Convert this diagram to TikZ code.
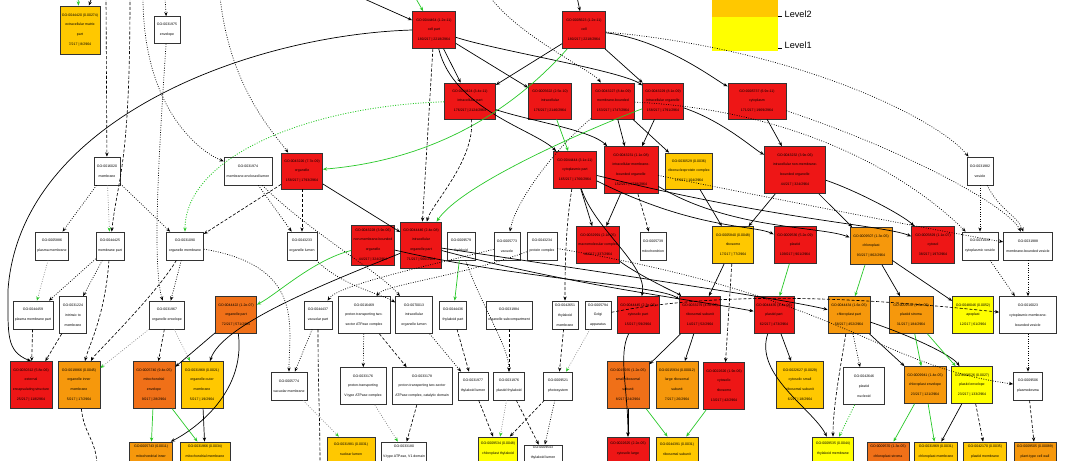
\documentclass[tikz,border=0pt]{standalone}
\usepackage{fontspec}
\setmainfont{Liberation Sans}
\usetikzlibrary{arrows.meta}

\definecolor{goRed}{RGB}{238,22,22}
\definecolor{goDeep}{RGB}{240,112,24}
\definecolor{goOrange}{RGB}{246,152,12}
\definecolor{goAmber}{RGB}{255,200,0}
\definecolor{goYellow}{RGB}{255,255,0}
\definecolor{goGreen}{RGB}{40,200,40}
\newcommand{\gofont}{\fontsize{2.5pt}{7pt}\selectfont}
\newcommand{\legfont}{\fontsize{6.5pt}{7pt}\selectfont}

\tikzset{
  goterm/.style={draw=black!80, line width=0.5pt, rectangle, inner sep=0.5pt, align=center, font=\gofont},
  wh/.style 2 args={minimum width=#1*0.25mm, minimum height=#2*0.25mm},
  lvred/.style={goterm, fill=goRed},
  lvdeep/.style={goterm, fill=goDeep},
  lvorange/.style={goterm, fill=goOrange},
  lvamber/.style={goterm, fill=goAmber},
  lvyellow/.style={goterm, fill=goYellow},
  lvwhite/.style={goterm, fill=white},
  isa/.style={->, line width=0.5pt},
  partof/.style={->, line width=0.45pt, dash pattern=on 2.2pt off 1.3pt},
  regl/.style={->, line width=0.5pt, dash pattern=on 0.6pt off 1.1pt},
  grn/.style={->, goGreen, line width=0.5pt},
  grndot/.style={->, goGreen, line width=0.6pt, dash pattern=on 0.7pt off 1.1pt},
  gtip/.style={-{Stealth[length=3pt,width=2.4pt,color=goGreen]}, gray, line width=0.45pt, dash pattern=on 0.6pt off 1.1pt}
}

\begin{document}
\begin{tikzpicture}[x=0.25mm, y=-0.25mm, >={Stealth[length=3pt,width=2.4pt]}]
  \useasboundingbox (0,0) rectangle (1080,460);
  \clip (0,0) rectangle (1080,460);

  % Legend
  \node[fill=goAmber, wh={66}{34}, inner sep=0] (lvtwo) at (745,0) {};
  \node[fill=goYellow, wh={66}{34}, inner sep=0] (lvone) at (745,34) {};
  \node[anchor=west, font=\legfont, inner sep=1pt] (lvtwotxt) at (783,14) {Level2};
  \node[anchor=west, font=\legfont, inner sep=1pt] (lvonetxt) at (783,45) {Level1};
  \draw[line width=0.7pt] (778,16) -- (782,16);
  \draw[line width=0.7pt] (778,48) -- (782,48);

  % Top row
  \node[lvamber, wh={40}{48}] (ecm) at (80,30) {GO:0044420 (0.00274)\\extracellular matrix\\part\\7/217 | 8/2964};
  \node[lvwhite, wh={26}{27}] (env) at (167,30) {GO:0031975\\envelope};
  \node[lvred, wh={43}{37}] (cellpart) at (434,30) {GO:0044464 (1.2e-11)\\cell part\\180/217 | 2218/2964};
  \node[lvred, wh={43}{37}] (cell) at (584,30) {GO:0005623 (1.2e-11)\\cell\\180/217 | 2218/2964};

  % Second row
  \node[lvred, wh={51}{36}] (intrapart) at (470,101) {GO:0044424 (3.4e-11)\\intracellular part\\176/217 | 2124/2964};
  \node[lvred, wh={43}{36}] (intra) at (550,101) {GO:0005622 (2.5e-10)\\intracellular\\176/217 | 2146/2964};
  \node[lvred, wh={43}{36}] (mborg) at (613,101) {GO:0043227 (8.4e-09)\\membrane-bounded\\153/217 | 1747/2964};
  \node[lvred, wh={41}{36}] (icorg) at (663,101) {GO:0043229 (8.1e-09)\\intracellular organelle\\158/217 | 1791/2964};
  \node[lvred, wh={58}{36}] (cytoplasm) at (757,101) {GO:0005737 (6.9e-11)\\cytoplasm\\171/217 | 1969/2964};

  % Third row
  \node[lvwhite, wh={26}{28}] (membrane) at (107,171) {GO:0016020\\membrane};
  \node[lvwhite, wh={48}{28}] (memlumen) at (248,171) {GO:0031974\\membrane-enclosed lumen};
  \node[lvred, wh={41}{36}] (organelle) at (302,171) {GO:0043226 (7.7e-09)\\organelle\\158/217 | 1793/2964};
  \node[lvred, wh={43}{37}] (cytopart) at (575,170) {GO:0044444 (3.1e-11)\\cytoplasmic part\\165/217 | 1766/2964};
  \node[lvred, wh={54}{47}] (icmbo) at (631,170) {GO:0043231 (1.1e-08)\\intracellular membrane-\\bounded organelle\\152/217 | 1738/2964};
  \node[lvamber, wh={47}{36}] (rnp) at (689,171) {GO:0030529 (0.0036)\\ribonucleoprotein complex\\17/217 | 104/2964};
  \node[lvred, wh={61}{47}] (icnmbo) at (795,170) {GO:0043232 (3.9e-06)\\intracellular non-membrane-\\bounded organelle\\44/217 | 324/2964};
  \node[lvwhite, wh={26}{28}] (vesicle) at (980,171) {GO:0031982\\vesicle};

  % Fourth row
  \node[lvwhite, wh={33}{28}] (plasmamem) at (52,246) {GO:0005886\\plasma membrane};
  \node[lvwhite, wh={28}{28}] (mempart) at (110,246) {GO:0044425\\membrane part};
  \node[lvwhite, wh={37}{28}] (orgmem) at (185,246) {GO:0031090\\organelle membrane};
  \node[lvwhite, wh={30}{28}] (orglumen) at (302,246) {GO:0043233\\organelle lumen};
  \node[lvred, wh={43}{40}] (nmbo) at (373,245) {GO:0043228 (3.9e-06)\\non-membrane-bounded\\organelle\\44/217 | 324/2964};
  \node[lvred, wh={41}{46}] (icorgpart) at (421,245) {GO:0044446 (2.4e-08)\\intracellular\\organelle part\\71/217 | 566/2964};
  \node[lvwhite, wh={28}{28}] (thylakoid) at (461,246) {GO:0009579\\thylakoid};
  \node[lvwhite, wh={26}{28}] (vacuole) at (507,246) {GO:0005773\\vacuole};
  \node[lvwhite, wh={30}{28}] (protcx) at (542,246) {GO:0043234\\protein complex};
  \node[lvred, wh={43}{37}] (macrocx) at (598,245) {GO:0032991 (2.1e-05)\\macromolecular complex\\46/217 | 337/2964};
  \node[lvwhite, wh={26}{28}] (mito) at (653,246) {GO:0005739\\mitochondrion};
  \node[lvamber, wh={41}{37}] (ribosome) at (733,245) {GO:0005840 (0.0048)\\ribosome\\17/217 | 77/2964};
  \node[lvred, wh={42}{37}] (plastid) at (795,245) {GO:0009536 (5.2e-09)\\plastid\\109/217 | 901/2964};
  \node[lvorange, wh={42}{37}] (chlorO) at (871,246) {GO:0009507 (1.3e-05)\\chloroplast\\93/217 | 862/2964};
  \node[lvred, wh={43}{37}] (cytosol) at (933,245) {GO:0005829 (1.1e-07)\\cytosol\\38/217 | 197/2964};
  \node[lvwhite, wh={36}{28}] (cytoves) at (980,246) {GO:0031410\\cytoplasmic vesicle};
  \node[lvwhite, wh={49}{28}] (mbves) at (1028,246) {GO:0031988\\membrane-bounded vesicle};

  % Fifth row
  \node[lvwhite, wh={40}{28}] (pmpart) at (33,315) {GO:0044459\\plasma membrane part};
  \node[lvwhite, wh={27}{37}] (intrinsic) at (73,315) {GO:0031224\\intrinsic to\\membrane};
  \node[lvwhite, wh={35}{28}] (orgenv) at (167,315) {GO:0031967\\organelle envelope};
  \node[lvdeep, wh={41}{37}] (orgpart) at (236,315) {GO:0044422 (1.2e-07)\\organelle part\\72/217 | 571/2964};
  \node[lvwhite, wh={28}{28}] (vacpart) at (318,315) {GO:0044437\\vacuolar part};
  \node[lvwhite, wh={52}{37}] (ptatp) at (364,315) {GO:0016469\\proton-transporting two-\\sector ATPase complex};
  \node[lvwhite, wh={37}{37}] (iclumen) at (414,315) {GO:0070013\\intracellular\\organelle lumen};
  \node[lvwhite, wh={27}{28}] (thylpart) at (453,315) {GO:0044436\\thylakoid part};
  \node[lvwhite, wh={46}{28}] (orgsub) at (509,315) {GO:0031984\\organelle subcompartment};
  \node[lvwhite, wh={26}{28}] (thylmem) at (565,315) {GO:0042651\\thylakoid\\membrane};
  \node[lvwhite, wh={26}{28}] (golgi) at (598,315) {GO:0005794\\Golgi\\apparatus};
  \node[lvred, wh={42}{37}] (cytosolpart) at (638,315) {GO:0044445 (2.3e-06)\\cytosolic part\\15/217 | 59/2964};
  \node[lvred, wh={41}{37}] (ribsub) at (700,315) {GO:0033279 (4.8e-06)\\ribosomal subunit\\14/217 | 52/2964};
  \node[lvred, wh={40}{37}] (plpart) at (774,315) {GO:0044435 (4.4e-06)\\plastid part\\62/217 | 473/2964};
  \node[lvorange, wh={42}{37}] (chlpart) at (849,315) {GO:0044434 (1.6e-05)\\chloroplast part\\58/217 | 452/2964};
  \node[lvorange, wh={44}{37}] (stroma) at (911,315) {GO:0009532 (1.8e-05)\\plastid stroma\\31/217 | 184/2964};
  \node[lvyellow, wh={41}{37}] (apoplast) at (973,315) {GO:0048046 (0.0052)\\apoplast\\12/217 | 61/2964};
  \node[lvwhite, wh={57}{37}] (cmbv) at (1028,315) {GO:0016023\\cytoplasmic membrane-\\bounded vesicle};

  % Sixth row
  \node[lvred, wh={42}{47}] (extenc) at (31,385) {GO:0030312 (5.8e-06)\\external\\encapsulating structure\\25/217 | 118/2964};
  \node[lvorange, wh={42}{47}] (inmem) at (79,385) {GO:0019866 (0.0045)\\organelle inner\\membrane\\5/217 | 17/2964};
  \node[lvdeep, wh={42}{47}] (mitenv) at (154,385) {GO:0005740 (9.4e-05)\\mitochondrial\\envelope\\9/217 | 28/2964};
  \node[lvamber, wh={42}{47}] (outmem) at (202,385) {GO:0031968 (0.0021)\\organelle outer\\membrane\\5/217 | 19/2964};
  \node[lvwhite, wh={36}{28}] (vacmem) at (289,386) {GO:0005774\\vacuolar membrane};
  \node[lvwhite, wh={46}{37}] (vatp) at (363,386) {GO:0033176\\proton-transporting\\V-type ATPase complex};
  \node[lvwhite, wh={60}{37}] (ptdom) at (422,386) {GO:0033178\\proton-transporting two-sector\\ATPase complex, catalytic domain};
  \node[lvwhite, wh={30}{28}] (thyllumen) at (473,386) {GO:0031977\\thylakoid lumen};
  \node[lvwhite, wh={31}{28}] (plthyl) at (509,386) {GO:0031976\\plastid thylakoid};
  \node[lvwhite, wh={29}{28}] (psys) at (558,386) {GO:0009521\\photosystem};
  \node[lvdeep, wh={42}{47}] (ssu) at (628,385) {GO:0015935 (1.2e-05)\\small ribosomal\\subunit\\8/217 | 24/2964};
  \node[lvorange, wh={42}{47}] (lsu) at (677,385) {GO:0015934 (0.00012)\\large ribosomal\\subunit\\7/217 | 26/2964};
  \node[lvred, wh={41}{47}] (cytrib) at (724,386) {GO:0022626 (1.9e-06)\\cytosolic\\ribosome\\13/217 | 42/2964};
  \node[lvamber, wh={47}{47}] (cytssu) at (800,385) {GO:0022627 (0.0029)\\cytosolic small\\ribosomal subunit\\6/217 | 18/2964};
  \node[lvwhite, wh={41}{37}] (nucleoid) at (864,386) {GO:0042646\\plastid\\nucleoid};
  \node[lvorange, wh={42}{37}] (chlenv) at (925,385) {GO:0009941 (1.4e-05)\\chloroplast envelope\\23/217 | 121/2964};
  \node[lvyellow, wh={41}{37}] (plenv) at (972,385) {GO:0009526 (0.0027)\\plastid envelope\\23/217 | 133/2964};
  \node[lvwhite, wh={29}{28}] (plasmod) at (1028,386) {GO:0009506\\plasmodesma};

  % Bottom row, its lower border on the edge
  \node[lvorange, wh={43}{19}] (mitim) at (151,451.5) {GO:0005743 (0.0011)\\mitochondrial inner};
  \node[lvamber, wh={50}{19}] (mitmem) at (205,451.5) {GO:0031966 (0.0034)\\mitochondrial membrane};
  \node[lvamber, wh={48}{24}] (nuclum) at (351,449) {GO:0031981 (0.0031)\\nuclear lumen};
  \node[lvwhite, wh={45}{19}] (vdom) at (404,451.5) {GO:0033180\\V-type ATPase, V1 domain};
  \node[lvyellow, wh={39}{24}] (chlthyl) at (498,449) {GO:0009534 (0.0048)\\chloroplast thylakoid};
  \node[lvwhite, wh={38}{16}] (chlthyllum) at (543,453) {GO:0009543\\thylakoid lumen};
  \node[lvred, wh={42}{24}] (cytlsu) at (628,449) {GO:0022625 (2.2e-05)\\cytosolic large};
  \node[lvamber, wh={42}{24}] (lsupart) at (677,449) {GO:0044391 (0.0031)\\ribosomal subunit};
  \node[lvyellow, wh={41}{24}] (chlthylmem) at (833,449) {GO:0009535 (0.0044)\\thylakoid membrane};
  \node[lvdeep, wh={42}{19}] (chlstroma) at (888,451.5) {GO:0009570 (1.3e-05)\\chloroplast stroma};
  \node[lvamber, wh={43}{19}] (chlmem) at (936,451.5) {GO:0031969 (0.0031)\\chloroplast membrane};
  \node[lvamber, wh={43}{19}] (plmem) at (985,451.5) {GO:0042170 (0.0035)\\plastid membrane};
  \node[lvorange, wh={42}{19}] (ptcw) at (1035,451.5) {GO:0009505 (0.00089)\\plant-type cell wall};

  % Free ends above and below the picture
  \coordinate (inA) at (78,-3);
  \coordinate (inB) at (92,-3);
  \coordinate (inC) at (106,-3);
  \coordinate (inD) at (130,-3);
  \coordinate (inE) at (143,-3);
  \coordinate (inF) at (165,-3);
  \coordinate (inG) at (220,-3);
  \coordinate (inH) at (360,-3);
  \coordinate (inI) at (415,-3);
  \coordinate (inJ) at (577,-3);
  \coordinate (inK) at (490,-3);
  \coordinate (outA) at (97,470);
  \coordinate (outB) at (320,470);
  \coordinate (arcbend) at (8,290);

  % Edges entering from above
  \draw[grn] (inA) -- (ecm);
  \draw[isa] (inB) -- (ecm);
  \draw[partof] (inC) -- (membrane);
  \draw[partof] (inD) .. controls +(0,170) and +(8,-70) .. (mempart);
  \draw[regl] (inE) .. controls +(0,110) and +(-50,-20) .. (memlumen);
  \draw[regl] (inF) -- (env);
  \draw[regl] (inG) .. controls +(10,90) and +(-30,-40) .. (organelle);
  \draw[isa] (inH) -- (cellpart);
  \draw[grn] (inI) -- (cellpart);
  \draw[isa] (inJ) -- (cell);
  \draw[regl] (inK) .. controls +(30,40) and +(-20,-30) .. (mborg);

  % Cell part and cell
  \draw[isa] (cellpart) -- (intrapart);
  \draw[isa] (cellpart) -- (intra);
  \draw[isa] (cellpart) .. controls +(60,20) and +(-40,-30) .. (icorg);
  \draw[isa] (cellpart) .. controls +(20,80) and +(-40,-40) .. (cytopart);
  \draw[partof] (cellpart) -- (icorgpart);
  \draw[isa] (cellpart.west) .. controls +(-163,5) and +(12,-170) .. (arcbend) .. controls +(0,45) and +(-25,-10) .. (extenc.north);
  \draw[isa] (cell) -- (intrapart);
  \draw[isa] (cell) -- (icorg);
  \draw[isa] (cell) .. controls +(80,10) and +(-40,-20) .. (cytoplasm);
  \draw[grn] (cell) .. controls +(-80,90) and +(120,-10) .. (organelle);
  \draw[regl] (cell) .. controls +(220,20) and +(-40,-50) .. (vesicle);

  % Second row out
  \draw[isa] (intrapart) .. controls +(60,20) and +(-40,-40) .. (icmbo);
  \draw[grndot] (intrapart) .. controls +(-160,5) and +(0,-90) .. (orgmem);
  \draw[partof] (intrapart) .. controls +(5,60) and +(10,-40) .. (icorgpart);
  \draw[grn] (intra) -- (cytopart);
  \draw[isa] (mborg) -- (icmbo);
  \draw[isa] (mborg) -- (rnp);
  \draw[regl] (mborg) .. controls +(-50,40) and +(10,-50) .. (vacuole);
  \draw[regl] (mborg) .. controls +(200,10) and +(-60,-60) .. (cytoves);
  \draw[isa] (icorg) -- (icmbo);
  \draw[isa] (icorg) .. controls +(60,20) and +(-40,-20) .. (icnmbo);
  \draw[grn] (icorg) .. controls +(-80,30) and +(40,-60) .. (icorgpart);
  \draw[isa] (cytoplasm) -- (icnmbo);
  \draw[regl] (cytoplasm) .. controls +(150,50) and +(-20,-40) .. (mbves);

  % Third row out
  \draw[regl] (env) .. controls +(-8,120) and +(-15,-50) .. (orgenv);
  \draw[regl] (membrane) -- (plasmamem);
  \draw[gtip] (membrane) -- (mempart);
  \draw[regl] (membrane) -- (orgmem);
  \draw[regl] (memlumen) -- (orglumen);
  \draw[regl] (memlumen) .. controls +(60,60) and +(-30,-40) .. (iclumen);
  \draw[partof] (organelle) -- (orglumen);
  \draw[partof] (organelle) -- (orgmem);
  \draw[isa] (organelle) -- (icorgpart);
  \draw[isa] (cytopart) -- (macrocx);
  \draw[isa] (cytopart) .. controls +(120,60) and +(-40,-20) .. (plastid);
  \draw[isa] (cytopart) .. controls +(200,50) and +(-50,-20) .. (cytosol);
  \draw[isa] (cytopart) .. controls +(20,60) and +(10,-50) .. (cytosolpart);
  \draw[partof] (cytopart) .. controls +(-10,60) and +(0,-40) .. (thylmem);
  \draw[isa] (icmbo) -- (macrocx);
  \draw[partof] (icmbo) -- (mito);
  \draw[isa] (icmbo) .. controls +(100,60) and +(-50,-20) .. (chlorO);
  \draw[regl] (icmbo) .. controls +(250,50) and +(-60,-10) .. (mbves);
  \draw[isa] (rnp) -- (ribosome);
  \draw[isa] (icnmbo) -- (ribosome);
  \draw[isa] (icnmbo) -- (chlorO);
  \draw[isa] (icnmbo) .. controls +(60,20) and +(-30,-30) .. (cytosol);
  \draw[regl] (vesicle) -- (cytoves);
  \draw[regl] (vesicle) .. controls +(20,40) and +(-10,-30) .. (mbves);

  % Fourth row out
  \draw[gtip] (plasmamem) -- (pmpart);
  \draw[regl] (mempart) -- (pmpart);
  \draw[regl] (mempart) -- (intrinsic);
  \draw[partof] (mempart) .. controls +(-5,70) and +(10,-40) .. (inmem);
  \draw[regl] (orgmem) -- (orgenv);
  \draw[partof] (orgmem) .. controls +(-30,50) and +(15,-30) .. (inmem);
  \draw[regl] (orgmem) .. controls +(120,20) and +(0,-60) .. (vacmem);
  \draw[regl] (orglumen) .. controls +(40,40) and +(-30,-20) .. (iclumen);
  \draw[grn] (nmbo) .. controls +(-60,15) and +(40,-20) .. (orgpart);
  \draw[isa] (icorgpart) .. controls +(-100,40) and +(20,-60) .. (outmem);
  \draw[isa] (icorgpart) .. controls +(150,40) and +(-80,-15) .. (plpart);
  \draw[isa] (icorgpart) .. controls +(200,30) and +(-60,-15) .. (chlpart);
  \draw[isa] (nmbo) .. controls +(150,35) and +(-40,-30) .. (ribsub);
  \draw[grn] (thylakoid) -- (thylpart);
  \draw[regl] (thylakoid) .. controls +(20,60) and +(0,-40) .. (plthyl);
  \draw[regl] (vacuole) .. controls +(-80,20) and +(20,-30) .. (vacpart);
  \draw[regl] (protcx) .. controls +(-80,30) and +(20,-30) .. (ptatp);
  \draw[regl] (protcx) .. controls +(300,50) and +(-150,-20) .. (plasmod);
  \draw[isa] (macrocx) .. controls +(40,30) and +(-20,-20) .. (ribsub);
  \draw[isa] (ribosome) -- (ribsub);
  \draw[partof] (ribosome) -- (cytrib);
  \draw[grn] (plastid) -- (plpart);
  \draw[grn] (chlorO) -- (chlpart);
  \draw[isa] (chlorO) -- (stroma);
  \draw[isa] (chlorO) -- (apoplast);
  \draw[regl] (cytoves) -- (cmbv);
  \draw[regl] (mbves) -- (cmbv);

  % Fifth row out
  \draw[partof] (pmpart) -- (extenc);
  \draw[partof] (intrinsic) -- (extenc);
  \draw[gtip] (orgenv) -- (inmem);
  \draw[partof] (orgenv) -- (mitenv);
  \draw[gtip] (orgenv) -- (outmem);
  \draw[isa] (orgpart) -- (mitenv);
  \draw[isa] (orgpart) .. controls +(10,80) and +(40,-20) .. (mitim);
  \draw[regl] (vacpart) -- (vacmem);
  \draw[partof] (vacpart) .. controls +(0,80) and +(0,-60) .. (outB);
  \draw[regl] (ptatp) -- (vatp);
  \draw[partof] (ptatp) -- (ptdom);
  \draw[regl] (iclumen) -- (thyllumen);
  \draw[partof] (thylpart) -- (thyllumen);
  \draw[partof] (orgsub) -- (plthyl);
  \draw[partof] (thylmem) -- (psys);
  \draw[gtip] (golgi) -- (psys);
  \draw[partof] (golgi) .. controls +(150,-30) and +(-100,-10) .. (cmbv);
  \draw[isa] (cytosolpart) .. controls +(-20,40) and +(0,-60) .. (cytlsu);
  \draw[isa] (ribsub) -- (ssu);
  \draw[isa] (ribsub) -- (lsu);
  \draw[isa] (plpart) -- (cytssu);
  \draw[regl] (chlpart) -- (nucleoid);
  \draw[isa] (chlpart) -- (chlenv);
  \draw[isa] (chlpart) .. controls +(60,20) and +(-20,-30) .. (plenv);
  \draw[grn] (stroma) -- (chlenv);
  \draw[grn] (stroma) -- (plenv);
  \draw[regl] (cmbv) -- (plasmod);

  % Into the bottom row
  \draw[grn] (mitenv) -- (mitim);
  \draw[grn] (mitenv) -- (mitmem);
  \draw[isa] (outmem) -- (mitmem);
  \draw[partof] (inmem) .. controls +(5,50) and +(0,-30) .. (outA);
  \draw[gtip] (vacmem) -- (nuclum);
  \draw[gtip] (vatp) -- (vdom);
  \draw[partof] (ptdom) -- (vdom);
  \draw[partof] (thyllumen) -- (chlthyl);
  \draw[gtip] (plthyl) -- (chlthyl);
  \draw[partof] (plthyl) -- (chlthyllum);
  \draw[partof] (psys) -- (chlthyl);
  \draw[regl] (psys) -- (chlthyllum);
  \draw[isa] (ssu) -- (cytlsu);
  \draw[grn] (ssu) -- (lsupart);
  \draw[grn] (cytrib) -- (lsupart);
  \draw[partof] (chlpart) .. controls +(-10,60) and +(0,-40) .. (chlthylmem);
  \draw[isa] (plpart) .. controls +(-20,60) and +(-20,-40) .. (chlthylmem);
  \draw[grndot] (nucleoid) -- (chlthylmem);
  \draw[grn] (chlenv) -- (chlstroma);
  \draw[grn] (chlenv) -- (chlmem);
  \draw[isa] (plenv) -- (chlmem);
  \draw[partof] (plenv) -- (plmem);
  \draw[partof] (plasmod) -- (ptcw);
\end{tikzpicture}
\end{document}
